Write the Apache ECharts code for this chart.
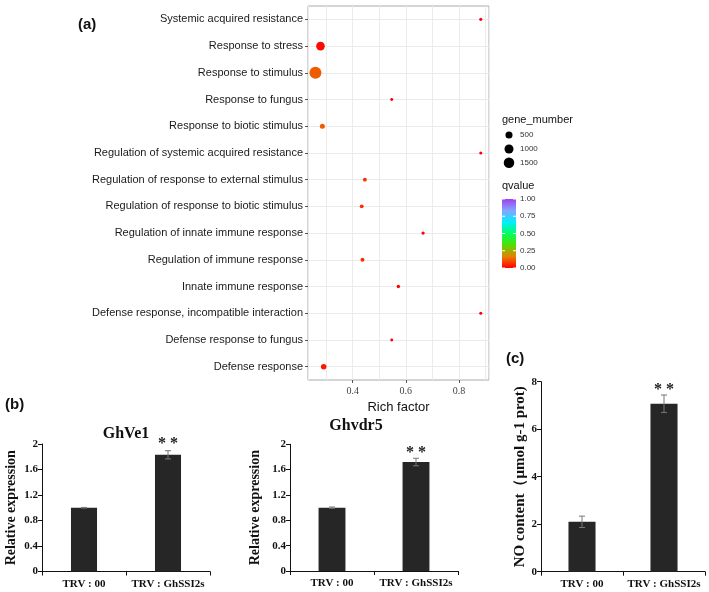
<!DOCTYPE html>
<html>
<head>
<meta charset="utf-8">
<script src="https://cdn.jsdelivr.net/npm/echarts@6/dist/echarts.min.js"></script>
<style>
  html, body { margin: 0; padding: 0; background: #fff; }
  #main { width: 709px; height: 592px; }
</style>
</head>
<body>
<div id="main"></div>
<script>
// (a) GO enrichment dot plot, listed top to bottom
var terms = [
  "Systemic acquired resistance",
  "Response to stress",
  "Response to stimulus",
  "Response to fungus",
  "Response to biotic stimulus",
  "Regulation of systemic acquired resistance",
  "Regulation of response to external stimulus",
  "Regulation of response to biotic stimulus",
  "Regulation of innate immune response",
  "Regulation of immune response",
  "Innate immune response",
  "Defense response, incompatible interaction",
  "Defense response to fungus",
  "Defense response"
];
var richFactor = [0.882, 0.279, 0.26, 0.547, 0.286, 0.882, 0.446, 0.434, 0.665, 0.437, 0.572, 0.882, 0.547, 0.291];
var geneNumber = [10, 900, 2100, 6, 160, 10, 45, 45, 20, 50, 22, 10, 6, 220];
var qValue = [0.0, 0.01, 0.12, 0.0, 0.12, 0.0, 0.06, 0.06, 0.0, 0.06, 0.0, 0.0, 0.0, 0.03];
var richTicks = [0.4, 0.6, 0.8];
var sizeLegend = [500, 1000, 1500];
var qTicks = [0, 0.25, 0.5, 0.75, 1];

// (b) (c) bar panels
var groups = ["TRV : 00", "TRV : GhSSI2s"];
var sig = ["", "* *"];
var ve1Mean = [1.0, 1.83];
var ve1Err = [0.005, 0.065];
var vdr5Mean = [1.0, 1.72];
var vdr5Err = [0.01, 0.06];
var noMean = [2.1, 7.07];
var noErr = [0.24, 0.37];

var Q_COLORS = ["#ff0000", "#e88000", "#50e000", "#00ff60", "#00eeff", "#85a5ff", "#a040f0"];
var SANS = "Liberation Sans, Arial, sans-serif";
var SERIF = "Liberation Serif, Times New Roman, serif";

function dotSize(n) { return 2.4 + 0.21 * Math.sqrt(n); }

var chart = echarts.init(document.getElementById("main"));

function barAxisX(gi) {
  return {
    type: "category", gridIndex: gi, data: groups,
    axisLine: { lineStyle: { color: "#111", width: 1 } },
    axisTick: { show: true, length: 4, lineStyle: { color: "#111" } },
    axisLabel: { interval: 0, fontFamily: SERIF, fontWeight: "bold", fontSize: 11, color: "#111", margin: 7 }
  };
}
function barAxisY(gi, max, interval, name, gap, nameSize) {
  return {
    type: "value", gridIndex: gi, min: 0, max: max, interval: interval,
    name: name, nameLocation: "middle", nameGap: gap, nameRotate: 90,
    nameTextStyle: { fontFamily: SERIF, fontWeight: "bold", fontSize: nameSize, color: "#111" },
    axisLine: { show: true, lineStyle: { color: "#111", width: 1 } },
    axisTick: { show: true, length: 4, lineStyle: { color: "#111" } },
    axisLabel: { fontFamily: SERIF, fontWeight: "bold", fontSize: 11, color: "#111", margin: 4 },
    splitLine: { show: false }
  };
}
function barSeries(ai, means, width, dist) {
  return {
    type: "bar", xAxisIndex: ai, yAxisIndex: ai, data: means, barWidth: width,
    itemStyle: { color: "#262626" },
    label: {
      show: true, position: "top", distance: dist,
      formatter: function (p) { return sig[p.dataIndex]; },
      fontFamily: SERIF, fontWeight: "bold", fontSize: 16, color: "#222"
    },
    silent: true
  };
}
function errSeries(ai, means, errs) {
  return {
    type: "custom", xAxisIndex: ai, yAxisIndex: ai, z: 5, silent: true,
    encode: { x: 0, y: [1, 2] },
    data: means.map(function (m, i) { return [i, m - errs[i], m + errs[i]]; }),
    renderItem: function (params, api) {
      var lo = api.coord([api.value(0), api.value(1)]);
      var hi = api.coord([api.value(0), api.value(2)]);
      var w = 3;
      var st = { stroke: "#777", lineWidth: 1 };
      return {
        type: "group", children: [
          { type: "line", shape: { x1: hi[0], y1: hi[1], x2: lo[0], y2: lo[1] }, style: st },
          { type: "line", shape: { x1: hi[0] - w, y1: hi[1], x2: hi[0] + w, y2: hi[1] }, style: st },
          { type: "line", shape: { x1: lo[0] - w, y1: lo[1], x2: lo[0] + w, y2: lo[1] }, style: st }
        ]
      };
    }
  };
}

// legend graphics for panel (a)
var graphics = [
  { type: "text", left: 78, top: 17, style: { text: "(a)", font: "bold 15px " + SANS, fill: "#111" } },
  { type: "text", left: 5, top: 397, style: { text: "(b)", font: "bold 15px " + SANS, fill: "#111" } },
  { type: "text", left: 506, top: 351, style: { text: "(c)", font: "bold 15px " + SANS, fill: "#111" } },
  { type: "text", left: 502, top: 114, style: { text: "gene_mumber", font: "11px " + SANS, fill: "#111" } },
  { type: "text", left: 502, top: 180, style: { text: "qvalue", font: "11px " + SANS, fill: "#111" } }
];
var sizeY = [135, 149, 162.7];
sizeLegend.forEach(function (v, i) {
  graphics.push({ type: "circle", shape: { cx: 509, cy: sizeY[i], r: dotSize(v) / 2 }, style: { fill: "#000" } });
  graphics.push({ type: "text", x: 520, y: sizeY[i], style: { text: String(v), font: "8px " + SANS, fill: "#333", verticalAlign: "middle" } });
});
var barTop = 199, barH = 69;
graphics.push({
  type: "rect", shape: { x: 502, y: barTop, width: 14, height: barH },
  style: {
    fill: {
      type: "linear", x: 0, y: 1, x2: 0, y2: 0,
      colorStops: Q_COLORS.map(function (c, i) { return { offset: i / (Q_COLORS.length - 1), color: c }; })
    }
  }
});
qTicks.forEach(function (q) {
  var y = barTop + barH - q * barH;
  graphics.push({ type: "line", shape: { x1: 502, y1: y, x2: 505, y2: y }, style: { stroke: "#fff", lineWidth: 1 } });
  graphics.push({ type: "line", shape: { x1: 513, y1: y, x2: 516, y2: y }, style: { stroke: "#fff", lineWidth: 1 } });
  graphics.push({ type: "text", x: 520, y: y, style: { text: q.toFixed(2), font: "8px " + SANS, fill: "#333", verticalAlign: "middle" } });
});

chart.setOption({
  animation: false,
  title: [
    { text: "GhVe1", left: 121, top: 421, textAlign: "center",
      textStyle: { fontFamily: SERIF, fontWeight: "bold", fontSize: 16, color: "#111" } },
    { text: "Ghvdr5", left: 351, top: 413, textAlign: "center",
      textStyle: { fontFamily: SERIF, fontWeight: "bold", fontSize: 16, color: "#111" } }
  ],
  grid: [
    { left: 308, top: 6, width: 181, height: 374, show: true, borderColor: "#aaaaaa", borderWidth: 1, backgroundColor: "transparent" },
    { left: 42, top: 444, width: 168, height: 127.5 },
    { left: 290, top: 444.3, width: 168, height: 126.7 },
    { left: 541, top: 381.7, width: 164, height: 190 }
  ],
  visualMap: [{
    show: false, type: "continuous", seriesIndex: 0, dimension: 3, min: 0, max: 1,
    inRange: { color: Q_COLORS }
  }],
  xAxis: [
    { type: "value", gridIndex: 0, min: 0.232, max: 0.913, splitNumber: 7,
      axisLine: { show: false }, axisTick: { show: false }, axisLabel: { show: false },
      splitLine: { show: true, lineStyle: { color: "#ebebeb", width: 1 } } },
    barAxisX(1), barAxisX(2), barAxisX(3),
    { type: "value", gridIndex: 0, min: 0.232, max: 0.913, position: "bottom",
      name: "Rich factor", nameLocation: "middle", nameGap: 15,
      nameTextStyle: { fontFamily: SANS, fontSize: 13, color: "#111" },
      axisLine: { show: false },
      axisTick: { show: true, length: 3, customValues: richTicks, lineStyle: { color: "#555" } },
      axisLabel: { customValues: richTicks, fontFamily: SERIF, fontSize: 10, color: "#444", margin: 6 },
      splitLine: { show: false } }
  ],
  yAxis: [
    { type: "category", gridIndex: 0, data: terms, inverse: true,
      axisLine: { show: false },
      axisTick: { show: true, alignWithLabel: true, length: 3, lineStyle: { color: "#555" } },
      axisLabel: { fontFamily: SANS, fontSize: 11, color: "#1a1a1a", margin: 5 },
      splitLine: { show: true, alignWithLabel: true, lineStyle: { color: "#ebebeb", width: 1 } } },
    barAxisY(1, 2, 0.4, "Relative expression", 24, 14),
    barAxisY(2, 2, 0.4, "Relative expression", 28, 14),
    barAxisY(3, 8, 2, "NO content（μmol g-1 prot)", 11, 15)
  ],
  series: [
    {
      type: "scatter", xAxisIndex: 0, yAxisIndex: 0, silent: true,
      itemStyle: { opacity: 1 },
      data: terms.map(function (t, i) { return [richFactor[i], t, geneNumber[i], qValue[i]]; }),
      symbolSize: function (v) { return dotSize(v[2]); }
    },
    barSeries(1, ve1Mean, "31%", 3), errSeries(1, ve1Mean, ve1Err),
    barSeries(2, vdr5Mean, "32%", 1), errSeries(2, vdr5Mean, vdr5Err),
    barSeries(3, noMean, "33%", 6), errSeries(3, noMean, noErr)
  ],
  graphic: graphics
});
</script>
</body>
</html>
